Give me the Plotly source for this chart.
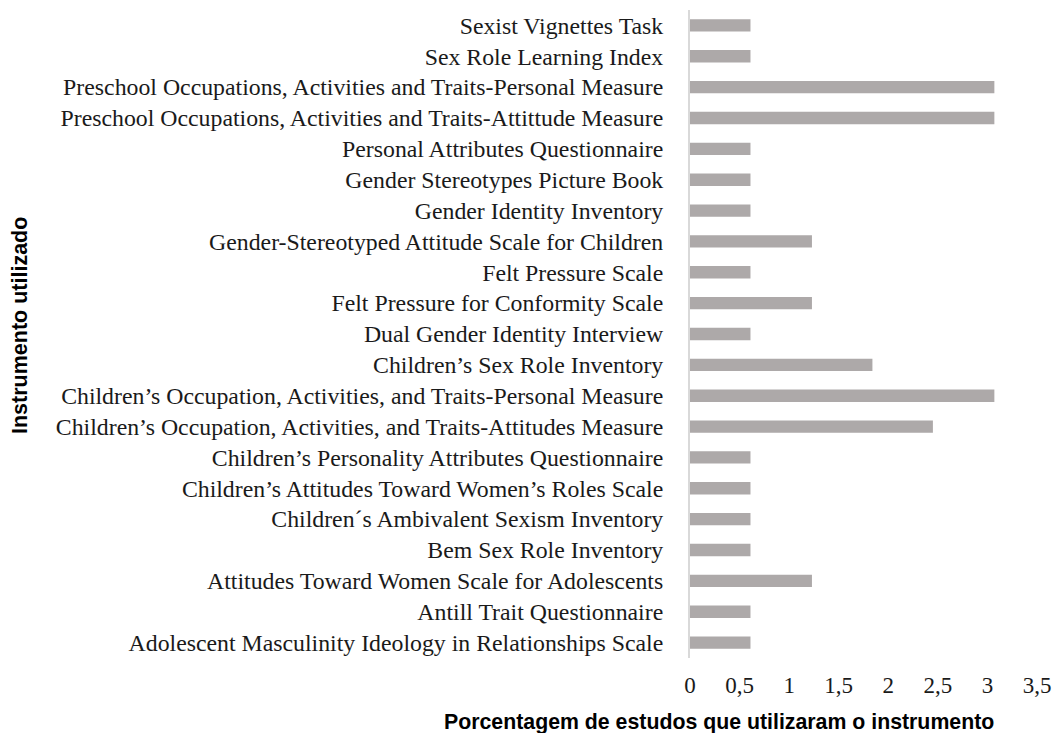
import plotly.graph_objects as go

# Instruments, listed bottom-to-top as drawn on the category axis
instrumentos = [
    "Adolescent Masculinity Ideology in Relationships Scale",
    "Antill Trait Questionnaire",
    "Attitudes Toward Women Scale for Adolescents",
    "Bem Sex Role Inventory",
    "Children´s Ambivalent Sexism Inventory",
    "Children’s Attitudes Toward Women’s Roles Scale",
    "Children’s Personality Attributes Questionnaire",
    "Children’s Occupation, Activities, and Traits-Attitudes Measure",
    "Children’s Occupation, Activities, and Traits-Personal Measure",
    "Children’s Sex Role Inventory",
    "Dual Gender Identity Interview",
    "Felt Pressure for Conformity Scale",
    "Felt Pressure Scale",
    "Gender-Stereotyped Attitude Scale for Children",
    "Gender Identity Inventory",
    "Gender Stereotypes Picture Book",
    "Personal Attributes Questionnaire",
    "Preschool Occupations, Activities and Traits-Attittude Measure",
    "Preschool Occupations, Activities and Traits-Personal Measure",
    "Sex Role Learning Index",
    "Sexist Vignettes Task",
]

# Percentage of studies using each instrument
porcentagem = [
    0.61, 0.61, 1.23, 0.61, 0.61, 0.61, 0.61, 2.45, 3.07, 1.84, 0.61,
    1.23, 0.61, 1.23, 0.61, 0.61, 0.61, 3.07, 3.07, 0.61, 0.61,
]

x_ticks = [0, 0.5, 1, 1.5, 2, 2.5, 3, 3.5]

serif = "Liberation Serif, Times New Roman, serif"
sans = "Liberation Sans, Arial, sans-serif"

fig = go.Figure(
    go.Bar(
        x=porcentagem,
        y=instrumentos,
        orientation="h",
        marker=dict(color="#ADA9A9", line=dict(width=0)),
        hoverinfo="x+y",
    )
)

fig.update_layout(
    width=1053,
    height=733,
    margin=dict(l=690, r=16, t=10, b=75),
    plot_bgcolor="white",
    paper_bgcolor="white",
    separators=", ",
    bargap=0.6,
    showlegend=False,
    font=dict(family=serif, size=24, color="#1a1a1a"),
)

fig.update_xaxes(
    range=[0, 3.5],
    tickvals=x_ticks,
    showgrid=False,
    zeroline=False,
    showline=False,
    ticks="",
    automargin=False,
    ticklabelstandoff=11,
    ticklabeloverflow="allow",
    tickfont=dict(family=serif, size=23, color="#1a1a1a"),
)

fig.update_yaxes(
    type="category",
    categoryorder="array",
    categoryarray=instrumentos,
    showgrid=False,
    zeroline=False,
    showline=True,
    linecolor="#D9D9D9",
    linewidth=2,
    ticks="",
    automargin=False,
    ticklabelstandoff=20,
    tickfont=dict(family=serif, size=23.8, color="#1a1a1a"),
)

fig.add_annotation(
    text="<b>Porcentagem de estudos que utilizaram o instrumento</b>",
    xref="paper", yref="paper",
    x=(719 - 690) / 347, y=0,
    xanchor="center", yanchor="middle",
    yshift=-(722 - 658),
    showarrow=False,
    font=dict(family=sans, size=21.3, color="#000000"),
)

fig.add_annotation(
    text="<b>Instrumento utilizado</b>",
    xref="paper", yref="paper",
    x=0, y=1 - (326 - 10) / 648,
    xanchor="center", yanchor="middle",
    xshift=20 - 690,
    textangle=-90,
    showarrow=False,
    font=dict(family=sans, size=21.5, color="#000000"),
)

fig.write_html("out.html")
